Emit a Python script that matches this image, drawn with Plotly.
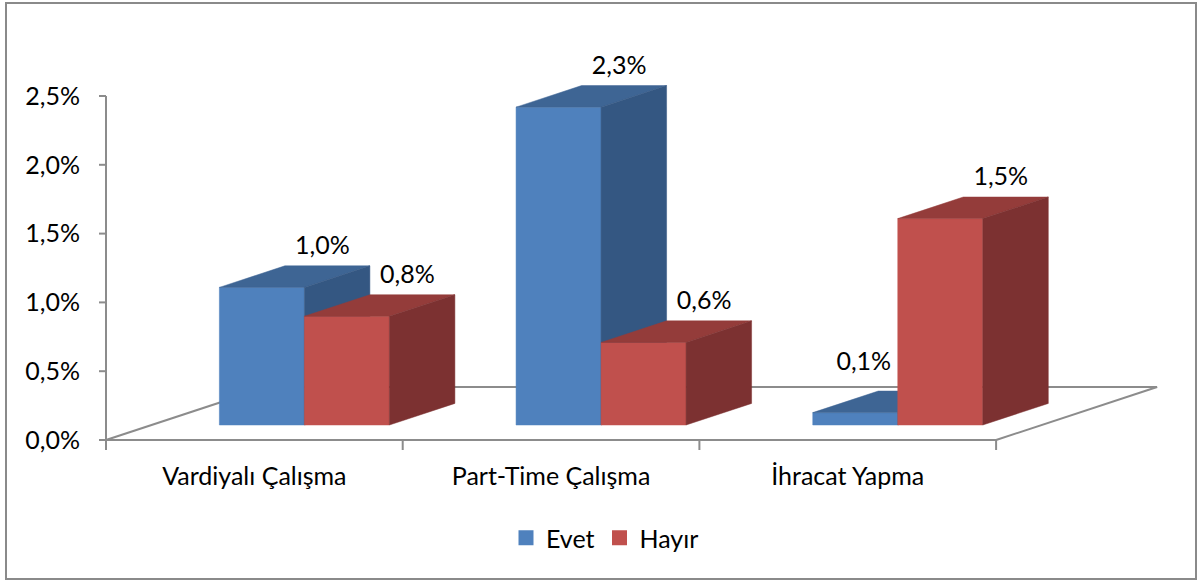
import plotly.graph_objects as go

# ---------------- data ----------------
categories = ["Vardiyalı Çalışma", "Part-Time Çalışma", "İhracat Yapma"]
series_names = ["Evet", "Hayır"]
evet_values = [1.00, 2.31, 0.09]
hayir_values = [0.79, 0.60, 1.50]
y_tick_values = [0.0, 0.5, 1.0, 1.5, 2.0, 2.5]
y_tick_labels = ["0,0%", "0,5%", "1,0%", "1,5%", "2,0%", "2,5%"]

series_values = [evet_values, hayir_values]

# ---------------- styling / layout ----------------
FRONT = ["#4F81BD", "#C0504D"]
TOP = ["#3E6594", "#943C3A"]
SIDE = ["#345782", "#7C3131"]
LINE_GRAY = "#8C8C8C"
FONT = "Lato"
FSIZE = 25

FIG_W, FIG_H = 1198, 581
PLOT_L, PLOT_R, PLOT_T, PLOT_B = 96, 1165, 60, 452      # plot-area edges (px)
X0_PX, CAT_PX = 106, 296.7                                # x=0 pixel, px per category
Y0_PX, PCT_PX = 440, 137.6                                # y=0 pixel, px per 1 %


def dxu(px):
    return px / CAT_PX


def dyu(px):
    return px / PCT_PX


x_range = [(PLOT_L - X0_PX) / CAT_PX, (PLOT_R - X0_PX) / CAT_PX]
y_range = [(Y0_PX - PLOT_B) / PCT_PX, (Y0_PX - PLOT_T) / PCT_PX]

FLOOR_DX, FLOOR_DY = dxu(161), dyu(53)   # oblique depth vector of the floor
Z_FRONT, Z_BACK = 0.283, 0.69            # bar depth span (fraction of floor depth)
BAR_W = dxu(85)
GROUP_CENTER = 0.515
LABEL_OFFSET_PX = (-5, 18)
LABEL_NUDGE_PX = {(0, 2): (-57, 27)}

n_cat = len(categories)
fig = go.Figure()

# floor frame
fx, fy = [], []
for seg in [((0, 0), (n_cat, 0)),
            ((0, 0), (FLOOR_DX, FLOOR_DY)),
            ((FLOOR_DX, FLOOR_DY), (n_cat + FLOOR_DX, FLOOR_DY)),
            ((n_cat, 0), (n_cat + FLOOR_DX, FLOOR_DY))]:
    fx += [seg[0][0], seg[1][0], None]
    fy += [seg[0][1], seg[1][1], None]
# value axis line and ticks
fx += [0, 0, None]
fy += [0, y_tick_values[-1], None]
for v in y_tick_values:
    fx += [-dxu(7), 0, None]
    fy += [v, v, None]
# category ticks
for i in range(n_cat + 1):
    fx += [i, i, None]
    fy += [0, -dyu(10), None]
fig.add_trace(go.Scatter(x=fx, y=fy, mode="lines",
                         line=dict(color=LINE_GRAY, width=2),
                         hoverinfo="skip", showlegend=False))

# 3D bars
lab_x, lab_y, lab_t = [], [], []
ddx = (Z_BACK - Z_FRONT) * FLOOR_DX
ddy = (Z_BACK - Z_FRONT) * FLOOR_DY
for i in range(n_cat):
    for j, vals in enumerate(series_values):
        v = vals[i]
        xl = i + GROUP_CENTER - BAR_W + j * BAR_W + Z_FRONT * FLOOR_DX
        xr = xl + BAR_W
        b = Z_FRONT * FLOOR_DY
        t = b + v
        faces = [
            ([xl, xr, xr, xl, xl], [b, b, t, t, b], FRONT[j]),
            ([xl, xr, xr + ddx, xl + ddx, xl], [t, t, t + ddy, t + ddy, t], TOP[j]),
            ([xr, xr + ddx, xr + ddx, xr, xr], [b, b + ddy, t + ddy, t, b], SIDE[j]),
        ]
        for px_, py_, col in faces:
            fig.add_trace(go.Scatter(x=px_, y=py_, mode="lines", fill="toself",
                                     fillcolor=col, line=dict(color=col, width=0.5),
                                     hoverinfo="skip", showlegend=False))
        ox, oy = LABEL_NUDGE_PX.get((j, i), LABEL_OFFSET_PX)
        lab_x.append((xl + xr) / 2 + ddx + dxu(ox))
        lab_y.append(t + ddy + dyu(oy))
        lab_t.append(f"{v:.1f}".replace(".", ",") + "%")

fig.add_trace(go.Scatter(x=lab_x, y=lab_y, text=lab_t, mode="text",
                         textposition="middle center",
                         textfont=dict(family=FONT, size=FSIZE, color="#000000"),
                         cliponaxis=False, hoverinfo="skip", showlegend=False))

# legend entries
for j, name in enumerate(series_names):
    fig.add_trace(go.Scatter(x=[None], y=[None], mode="markers", name=name,
                             marker=dict(symbol="square", size=15, color=FRONT[j])))

pw = PLOT_R - PLOT_L
ph = PLOT_B - PLOT_T
fig.update_layout(
    width=FIG_W, height=FIG_H,
    margin=dict(l=PLOT_L, r=FIG_W - PLOT_R, t=PLOT_T, b=FIG_H - PLOT_B, pad=0),
    paper_bgcolor="white", plot_bgcolor="white",
    font=dict(family=FONT, size=FSIZE, color="#000000"),
    hovermode=False,
    xaxis=dict(range=x_range, showgrid=False, zeroline=False, showline=False,
               tickmode="array", tickvals=[i + 0.5 for i in range(n_cat)],
               ticktext=categories, ticks="outside", ticklen=2,
               tickcolor="rgba(0,0,0,0)", fixedrange=True),
    yaxis=dict(range=y_range, showgrid=False, zeroline=False, showline=False,
               tickmode="array", tickvals=y_tick_values, ticktext=y_tick_labels,
               ticks="outside", ticklen=10, tickcolor="rgba(0,0,0,0)",
               fixedrange=True),
    legend=dict(orientation="h", x=(605 - PLOT_L) / pw, y=(PLOT_B - 538) / ph,
                xanchor="center", yanchor="middle",
                font=dict(family=FONT, size=FSIZE), itemsizing="trace"),
    shapes=[dict(type="rect", xref="paper", yref="paper",
                 x0=(6 - PLOT_L) / pw, x1=(1196 - PLOT_L) / pw,
                 y0=(PLOT_B - 579) / ph, y1=(PLOT_B - 3) / ph,
                 line=dict(color="#8A8A8A", width=2), layer="below")],
)

fig.write_html("out.html", config={"displayModeBar": False},
               post_script="document.body.style.margin='0';document.body.style.overflow='hidden';")
